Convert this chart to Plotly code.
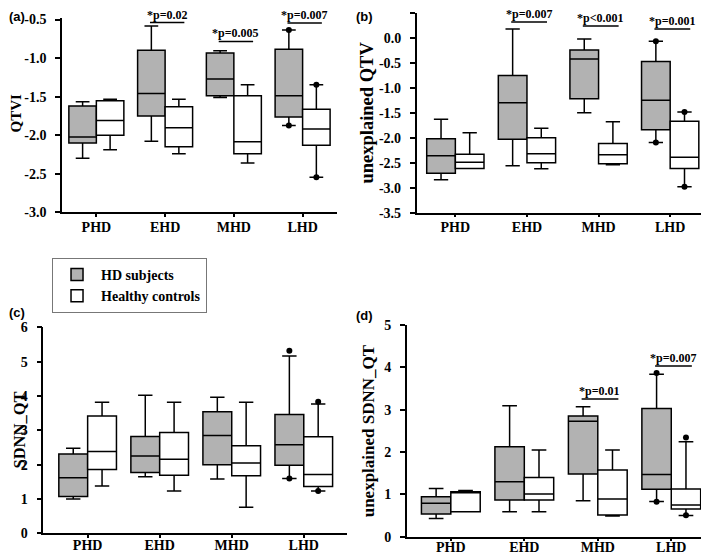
import plotly.graph_objects as go

STAGES = ["PHD", "EHD", "MHD", "LHD"]

# per stage: lower whisker, Q1, median, Q3, upper whisker
QTVI_HD = [[-2.30, -2.10, -2.025, -1.62, -1.565],
           [-2.08, -1.75, -1.46, -0.90, -0.585],
           [-1.51, -1.49, -1.27, -0.935, -0.905],
           [-1.876, -1.765, -1.49, -0.885, -0.636]]
QTVI_HC = [[-2.19, -2.00, -1.81, -1.555, -1.535],
           [-2.24, -2.15, -1.905, -1.63, -1.535],
           [-2.36, -2.24, -2.085, -1.49, -1.345],
           [-2.545, -2.13, -1.92, -1.665, -1.345]]
UQTV_HD = [[-2.84, -2.71, -2.36, -2.02, -1.63],
           [-2.56, -2.03, -1.30, -0.75, 0.18],
           [-1.50, -1.22, -0.42, -0.24, -0.02],
           [-2.095, -1.84, -1.25, -0.47, -0.065]]
UQTV_HC = [[-2.615, -2.615, -2.49, -2.33, -1.90],
           [-2.62, -2.50, -2.32, -2.00, -1.81],
           [-2.54, -2.52, -2.34, -2.115, -1.68],
           [-2.98, -2.615, -2.39, -1.67, -1.485]]
SDNN_HD = [[1.00, 1.07, 1.62, 2.31, 2.48],
           [1.65, 1.77, 2.25, 2.82, 4.02],
           [1.58, 2.00, 2.85, 3.54, 3.96],
           [1.60, 1.98, 2.58, 3.46, 5.165]]
SDNN_HC = [[1.38, 1.86, 2.38, 3.42, 3.815],
           [1.23, 1.69, 2.155, 2.94, 3.815],
           [0.76, 1.68, 2.05, 2.55, 3.815],
           [1.23, 1.36, 1.71, 2.815, 3.77]]
USDNN_HD = [[0.43, 0.535, 0.79, 0.945, 1.14],
            [0.59, 0.865, 1.30, 2.125, 3.095],
            [0.85, 1.48, 2.73, 2.85, 3.07],
            [0.83, 1.12, 1.47, 3.03, 3.84]]
USDNN_HC = [[0.59, 0.59, 1.04, 1.06, 1.09],
            [0.59, 0.865, 1.01, 1.40, 2.05],
            [0.49, 0.51, 0.89, 1.575, 2.05],
            [0.50, 0.655, 0.75, 1.125, 2.245]]

# single points (stage index, value)
QTVI_HD_PTS = [(3, -0.636), (3, -1.876)]
QTVI_HC_PTS = [(3, -1.345), (3, -2.545)]
UQTV_HD_PTS = [(3, -0.065), (3, -2.095)]
UQTV_HC_PTS = [(3, -1.485), (3, -2.98)]
SDNN_HD_PTS = [(3, 5.32), (3, 1.60)]
SDNN_HC_PTS = [(3, 3.835), (3, 1.233)]
USDNN_HD_PTS = [(3, 3.866), (3, 0.827)]
USDNN_HC_PTS = [(3, 2.346), (3, 0.504)]

# significance bars: stage index, bar height, label
QTVI_SIG = [(1, -0.539, "*p=0.02"), (2, -0.785, "*p=0.005"), (3, -0.545, "*p=0.007")]
UQTV_SIG = [(1, 0.32, "*p=0.007"), (2, 0.24, "*p&lt;0.001"), (3, 0.18, "*p=0.001")]
USDNN_SIG = [(2, 3.25, "*p=0.01"), (3, 4.03, "*p=0.007")]

QTVI_TICKS = [-0.5, -1.0, -1.5, -2.0, -2.5, -3.0]
UQTV_TICKS = [0.5, 0.0, -0.5, -1.0, -1.5, -2.0, -2.5, -3.0, -3.5]
SDNN_TICKS = [0, 1, 2, 3, 4, 5, 6]
USDNN_TICKS = [0, 1, 2, 3, 4, 5]

SERIF = "Liberation Serif, Times New Roman, serif"
SANS = "Liberation Sans, Arial, sans-serif"
GRAY = "#b2b2b2"

fig = go.Figure()


def add_boxes(stats, offset, color, name, ax, show):
    xs = [i + offset for i in range(len(STAGES))]
    fig.add_trace(go.Box(
        x=xs, lowerfence=[s[0] for s in stats], q1=[s[1] for s in stats],
        median=[s[2] for s in stats], q3=[s[3] for s in stats],
        upperfence=[s[4] for s in stats], width=0.4, whiskerwidth=0.5,
        fillcolor=color, line=dict(color="black", width=1.5),
        name=name, showlegend=show, legendgroup=name,
        xaxis="x" + ax, yaxis="y" + ax))


def add_points(pts, offset, ax):
    fig.add_trace(go.Scatter(
        x=[p[0] + offset for p in pts], y=[p[1] for p in pts], mode="markers",
        marker=dict(color="black", size=6), showlegend=False, cliponaxis=False,
        xaxis="x" + ax, yaxis="y" + ax))


def add_sig(sig, ax):
    for idx, yv, label in sig:
        fig.add_shape(type="line", x0=idx - 0.22, x1=idx + 0.28, y0=yv, y1=yv,
                      xref="x" + ax, yref="y" + ax, line=dict(color="black", width=1.5))
        fig.add_annotation(x=idx + 0.03, y=yv, xref="x" + ax, yref="y" + ax,
                           text=label, showarrow=False, yanchor="bottom", yshift=-1,
                           font=dict(family=SERIF, size=12, color="black", weight="bold"))


panels = [
    ("", QTVI_HD, QTVI_HC, QTVI_HD_PTS, QTVI_HC_PTS, QTVI_SIG, True),
    ("2", UQTV_HD, UQTV_HC, UQTV_HD_PTS, UQTV_HC_PTS, UQTV_SIG, False),
    ("3", SDNN_HD, SDNN_HC, SDNN_HD_PTS, SDNN_HC_PTS, [], False),
    ("4", USDNN_HD, USDNN_HC, USDNN_HD_PTS, USDNN_HC_PTS, USDNN_SIG, False),
]
for ax, hd, hc, hd_pts, hc_pts, sig, show in panels:
    add_boxes(hd, -0.2, GRAY, "HD subjects", ax, show)
    add_boxes(hc, 0.2, "white", "Healthy controls", ax, show)
    add_points(hd_pts, -0.2, ax)
    add_points(hc_pts, 0.2, ax)
    add_sig(sig, ax)


def fmt(v, dec):
    return ("%." + str(dec) + "f") % v


def xaxis(domain, rng, anchor, standoff):
    return dict(domain=domain, range=rng, anchor=anchor, tickvals=list(range(len(STAGES))),
                ticktext=STAGES, showline=True, linecolor="black", linewidth=1.5,
                ticks="outside", ticklen=3, tickwidth=1.5, tickcolor="black",
                ticklabelstandoff=standoff,
                showgrid=False, zeroline=False, automargin=False,
                tickfont=dict(family=SERIF, size=14, color="black", weight="bold"))


def yaxis(domain, rng, anchor, ticks, dec):
    return dict(domain=domain, range=rng, anchor=anchor, tickvals=ticks,
                ticktext=[fmt(t, dec) for t in ticks], showline=True, linecolor="black",
                linewidth=1.5, ticks="outside", ticklen=5, tickwidth=1.5, tickcolor="black",
                ticklabelstandoff=6, showgrid=False, zeroline=False, automargin=False,
                tickfont=dict(family=SERIF, size=14, color="black", weight="bold"))


# the page body adds an 8px margin, so the figure is 8px smaller than the window
fig.update_layout(
    template="none",
    width=701, height=548, margin=dict(l=0, r=0, t=0, b=0, autoexpand=False),
    paper_bgcolor="white", plot_bgcolor="white",
    xaxis=xaxis([0.0770, 0.4693], [-0.5, 3.5], "y", -2),
    yaxis=yaxis([0.6272, 0.9821], [-3.0, -0.478], "x", QTVI_TICKS, 1),
    xaxis2=xaxis([0.5830, 0.9957], [-0.54, 3.5], "y2", -2),
    yaxis2=yaxis([0.6265, 0.9909], [-3.5, 0.5], "x2", UQTV_TICKS, 1),
    xaxis3=xaxis([0.0504, 0.4836], [-0.615, 3.6], "y3", -5),
    yaxis3=yaxis([0.0414, 0.4173], [0, 6], "x3", SDNN_TICKS, 0),
    xaxis4=xaxis([0.5688, 0.9986], [-0.6, 3.5], "y4", -6),
    yaxis4=yaxis([0.0352, 0.4215], [0, 5], "x4", USDNN_TICKS, 0),
    legend=dict(x=0.0628, y=0.5438, xanchor="left", yanchor="top", bgcolor="white",
                bordercolor="#777", borderwidth=1, tracegroupgap=0, itemwidth=38,
                font=dict(family=SERIF, size=14, color="black", weight="bold")),
)

# axis titles and panel letters
titles = [("QTVI", 0.0, 0.8075, 15, "left", -2),
          ("unexplained QTV", 0.5117, 0.8086, 18.5, "center", 0),
          ("SDNN_QT", 0.0, 0.2299, 16.5, "left", 0),
          ("unexplained SDNN_QT", 0.514, 0.2281, 17, "center", 0)]
for text, x, y, size, anchor, shift in titles:
    fig.add_annotation(x=x, y=y, xref="paper", yref="paper", text=text, textangle=-90,
                       showarrow=False, xanchor=anchor, yanchor="middle", xshift=shift,
                       font=dict(family=SERIF, size=size, color="black", weight="bold"))

letters = [("(a)", 0.0, 1.0, "top"), ("(b)", 0.495, 1.0, "top"),
           ("(c)", 0.0, 0.4452, "middle"), ("(d)", 0.495, 0.438, "middle")]
for text, x, y, yanchor in letters:
    fig.add_annotation(x=x, y=y, xref="paper", yref="paper", text=text, showarrow=False,
                       xanchor="left", yanchor=yanchor, borderpad=0,
                       font=dict(family=SANS, size=13, color="black", weight="bold"))

fig.write_html("out.html")
